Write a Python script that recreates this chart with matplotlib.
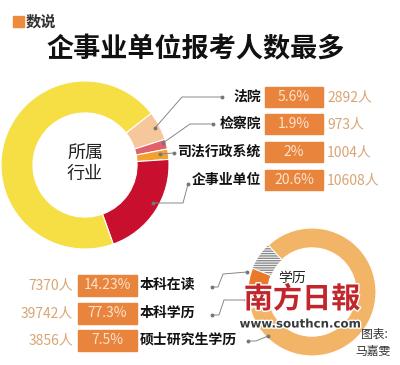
import matplotlib
matplotlib.use("Agg")
import matplotlib.pyplot as plt
from matplotlib.patches import Rectangle
import matplotlib.patheffects as pe

plt.rcParams['font.family'] = ['Noto Sans CJK SC', 'DejaVu Sans']

# 所属行业
ind_names = ['法院', '检察院', '司法行政系统', '企事业单位']
ind_pct = [5.6, 1.9, 2.0, 20.6]
ind_pct_txt = ['5.6%', '1.9%', '2%', '20.6%']
ind_count = [2892, 973, 1004, 10608]
ind_colors = ['#F7C79C', '#E2606B', '#F2A12E', '#C8102E']
other_color = '#F5DF45'

# 学历
edu_names = ['本科在读', '本科学历', '硕士研究生学历']
edu_pct_txt = ['14.23%', '77.3%', '7.5%']
edu_count = [7370, 39742, 3856]
# ring pieces as drawn in the picture (hatched, dark, medium, rest)
edu_ring = [7.0, 5.5, 4.7]
edu_colors = ['white', '#E97A2C', '#EE9B38']
edu_rest_color = '#F2B466'

W, H = 400, 365
fig = plt.figure(figsize=(4, 3.65), dpi=100)
fig.patch.set_facecolor('white')

def ring_axes(cx, cy, r):
    a = fig.add_axes([(cx - r) / W, (H - cy - r) / H, 2 * r / W, 2 * r / H])
    a.axis('off')
    return a

def fit(a):
    a.set_xlim(-1, 1)
    a.set_ylim(-1, 1)
    a.set_aspect('auto')

# top donut
ax1 = ring_axes(85, 165, 84)
vals = ind_pct + [100 - sum(ind_pct)]
ax1.pie(vals, colors=ind_colors + [other_color], startangle=38, counterclock=False,
        radius=1, wedgeprops=dict(width=0.38, edgecolor='white', linewidth=0.8))
fit(ax1)

# bottom donut
ax2 = ring_axes(312, 292, 64)
vals2 = edu_ring + [100 - sum(edu_ring)]
w2, _ = ax2.pie(vals2, colors=edu_colors + [edu_rest_color], startangle=133,
                radius=1, wedgeprops=dict(width=0.31, edgecolor='white', linewidth=0.8))
w2[0].set_hatch('-------')
w2[0].set_edgecolor('#8a8a8a')
w2[0].set_linewidth(0)
fit(ax2)

# overlay in pixel coordinates
ax = fig.add_axes([0, 0, 1, 1])
ax.set_xlim(0, W)
ax.set_ylim(H, 0)
ax.axis('off')
ax.patch.set_alpha(0)

# header
ax.add_patch(Rectangle((13, 16), 11, 11, color='#EE8A3C'))
ax.text(26, 21.5, '数说', fontsize=11, fontweight='bold', color='#333333', va='center')
ax.text(196, 49, '企事业单位报考人数最多', fontsize=19.5, fontweight='bold',
        color='#111111', ha='center', va='center')

ax.text(85, 164, '所属\n行业', fontsize=13, color='#222222', ha='center', va='center',
        linespacing=1.15)

box_c = '#E9843C'
cnt_c = '#D9A574'
line_c = '#888888'

# right-hand table (industry)
ys = [97, 124, 152, 180]
for i, y in enumerate(ys):
    ax.text(261, y, ind_names[i], fontsize=10, fontweight='bold', color='#111111',
            ha='right', va='center')
    ax.add_patch(Rectangle((265, y - 10), 58, 20, color=box_c))
    ax.text(294, y, ind_pct_txt[i], fontsize=10, color='#FBE3CF', ha='center', va='center')
    ax.text(327, y, f'{ind_count[i]}人', fontsize=10, color=cnt_c, ha='left', va='center')

leaders1 = [
    [(222, 97), (182, 97), (155, 128)],
    [(213, 124), (190, 124), (163, 143)],
    [(174, 153), (160, 154)],
    [(188, 184), (183, 203), (153, 203)],
]
for pts in leaders1:
    xs = [p[0] for p in pts]
    yv = [p[1] for p in pts]
    ax.plot(xs, yv, color=line_c, lw=0.7)
    ax.plot([xs[0], xs[-1]], [yv[0], yv[-1]], 'o', color='#777777', ms=1.8)

# bottom-left table (education)
ys2 = [285, 313, 340]
for i, y in enumerate(ys2):
    ax.text(73, y, f'{edu_count[i]}人', fontsize=10, color=cnt_c, ha='right', va='center')
    ax.add_patch(Rectangle((78, y - 10.5), 59, 21, color=box_c))
    ax.text(107.5, y, edu_pct_txt[i], fontsize=10, color='#FBE3CF', ha='center', va='center')
    ax.text(140, y, edu_names[i], fontsize=10, fontweight='bold', color='#111111',
            ha='left', va='center')

leaders2 = [
    [(212, 287), (218, 287), (223, 274), (247, 272)],
    [(212, 315), (219, 315), (224, 300), (246, 300)],
    [(248, 341), (256, 341), (268, 336)],
]
for pts in leaders2:
    xs = [p[0] for p in pts]
    yv = [p[1] for p in pts]
    ax.plot(xs, yv, color=line_c, lw=0.7)
    ax.plot([xs[0], xs[-1]], [yv[0], yv[-1]], 'o', color='#777777', ms=1.8)

ax.text(292, 278, '学历', fontsize=10, color='#222222', ha='center', va='center')

# newspaper watermark
ax.text(302, 299, '南方日報', fontsize=21, fontweight='bold', color='#C0262C',
        ha='center', va='center',
        path_effects=[pe.withStroke(linewidth=2, foreground='white')])
ax.text(300, 324, 'www.southcn.com', fontsize=8.5, fontweight='bold', color='#3a3a3a',
        ha='center', va='center', family=['DejaVu Sans'],
        path_effects=[pe.withStroke(linewidth=2, foreground='white')])

ax.text(374, 334, '图表:', fontsize=8.5, color='#333333', ha='center', va='center')
ax.text(373, 351, '马嘉雯', fontsize=8.5, color='#333333', ha='center', va='center')

fig.savefig('out.png', dpi=100, facecolor='white')
